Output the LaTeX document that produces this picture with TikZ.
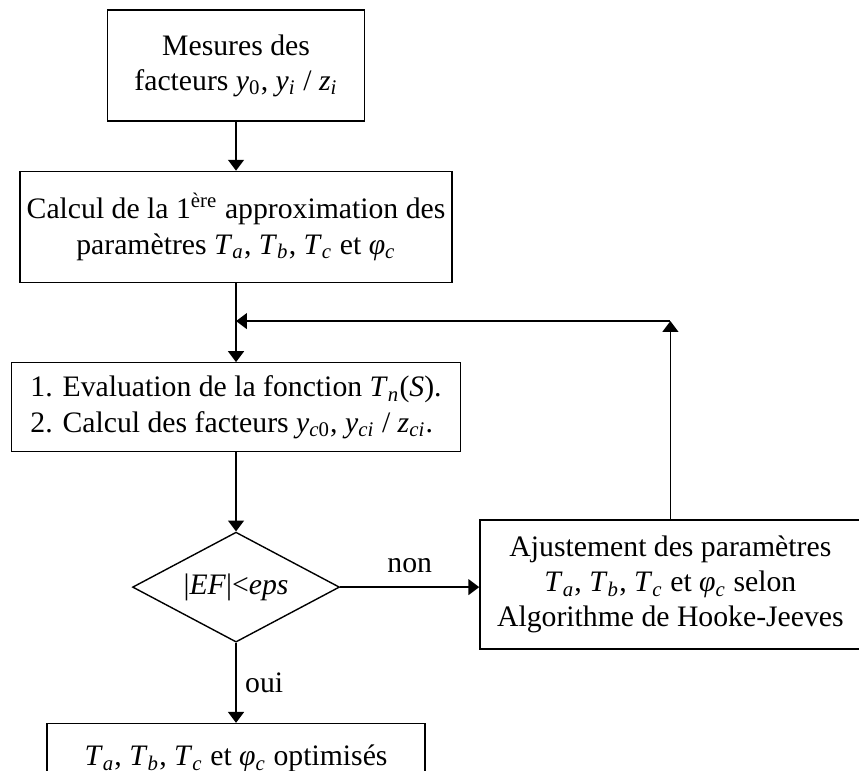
\documentclass[tikz,border=0pt]{standalone}
\usepackage{fontspec}
\setmainfont{Liberation Serif}
\usepackage{tikz}
\usetikzlibrary{arrows.meta,positioning,shapes.geometric,calc}
\newcommand{\vsub}[2]{\textit{#1}\textsubscript{#2}}

\begin{document}
\begin{tikzpicture}[
  font=\fontsize{11.7}{13.8}\selectfont,
  box/.style={draw, line width=0.55pt, align=center, inner sep=2pt},
  test/.style={draw, diamond, line width=0.55pt, aspect=1.88, inner sep=0pt, minimum width=2.864cm, minimum height=1.522cm},
  arr/.style={-{Triangle[length=1.5mm, width=2.2mm]}, line width=0.55pt},
  node distance=1.093cm
]
\useasboundingbox (0,0) rectangle (11.886,-10.668);
\node[box, minimum width=3.556cm, minimum height=1.536cm] (mes) at (3.266,-0.906) {Mesures des\\facteurs \vsub{y}{0}, \vsub{y}{\textit{i}} / \vsub{z}{\textit{i}}};
\node[box, minimum width=5.978cm, minimum height=1.536cm, below=0.678cm of mes] (calc) {Calcul de la 1\textsuperscript{ère} approximation des\\paramètres \vsub{T}{\textit{a}}, \vsub{T}{\textit{b}}, \vsub{T}{\textit{c}} et \vsub{φ}{\textit{c}}};
\node[box, align=left, minimum width=6.213cm, minimum height=1.231cm, below=of calc] (eval) {1. Evaluation de la fonction \vsub{T}{\textit{n}}(\textit{S}).\\2. Calcul des facteurs \vsub{y}{\textit{c}0}, \vsub{y}{\textit{ci}} / \vsub{z}{\textit{ci}}.};
\node[test, below=of eval] (crit) {|\textit{EF}|<\textit{eps}};
\node[box, minimum width=5.272cm, minimum height=1.785cm, right=1.923cm of crit, yshift=0.035cm] (adj) {Ajustement des paramètres\\\vsub{T}{\textit{a}}, \vsub{T}{\textit{b}}, \vsub{T}{\textit{c}} et \vsub{φ}{\textit{c}} selon\\Algorithme de Hooke-Jeeves};
\node[box, minimum width=5.23cm, minimum height=0.97cm, below=1.107cm of crit] (opt) {\vsub{T}{\textit{a}}, \vsub{T}{\textit{b}}, \vsub{T}{\textit{c}} et \vsub{φ}{\textit{c}} optimisés};
% loop back
\coordinate[below=0.526cm of calc] (join);
\coordinate (turn) at (adj.north |- join);
\draw[arr] (mes) -- (calc);
\draw[arr] (calc) -- (eval);
\draw[arr] (eval) -- (crit);
\draw[arr] (crit) -- node[above=2pt]{non} (crit -| adj.west);
\draw[arr] (crit) -- node[right]{oui} (opt);
\draw[arr] (adj) -- (turn);
\draw[arr] (turn) -- (join);
\end{tikzpicture}
\end{document}
